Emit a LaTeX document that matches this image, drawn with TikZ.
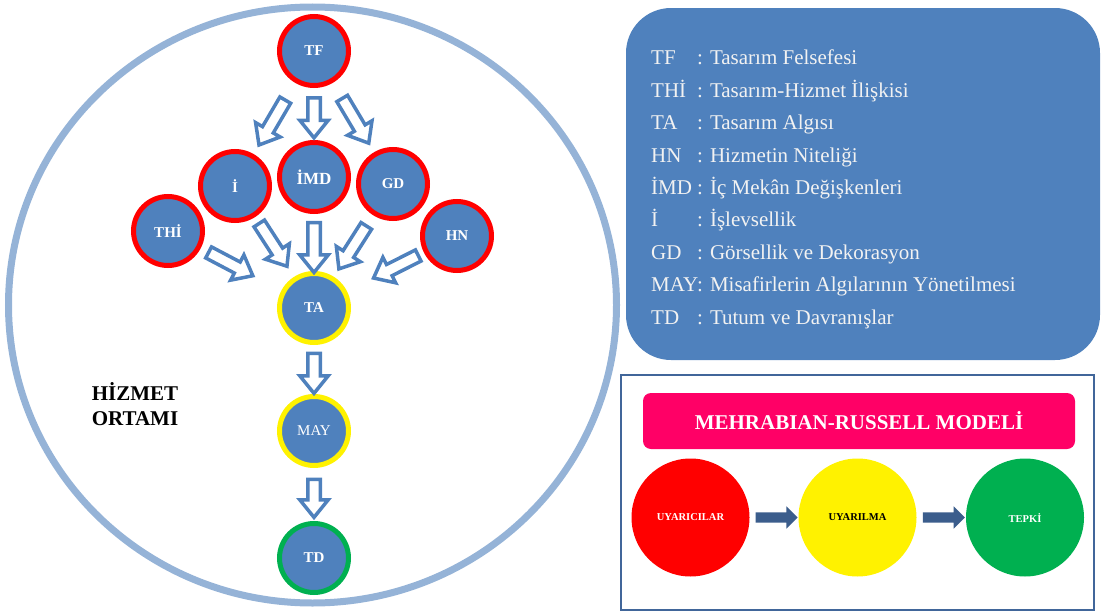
\documentclass[tikz,border=0pt]{standalone}
\usepackage{fontspec}
\setmainfont{Liberation Serif}
\usetikzlibrary{shapes.arrows}

\definecolor{nodeblue}{HTML}{4F81BD}
\definecolor{ringblue}{HTML}{95B3D7}
\definecolor{frameblue}{HTML}{41669A}
\definecolor{darkarrow}{HTML}{3B5D8C}
\definecolor{titlepink}{HTML}{FF0066}
\definecolor{greenring}{HTML}{00B050}

\newcommand{\kisalt}[1]{\makebox[46pt][l]{#1}}

\tikzset{
  kavram/.style={circle, fill=nodeblue, draw=red, line width=5pt, minimum size=69pt, inner sep=0pt, text=white, font=\fontsize{15}{18}\selectfont\bfseries},
  bosok/.style={single arrow, draw=nodeblue, fill=white, line width=3.5pt, inner xsep=0pt, inner ysep=4.5pt, single arrow head extend=8pt, single arrow tip angle=78, minimum height=#1, sloped, allow upside down},
  doluok/.style={single arrow, fill=darkarrow, inner xsep=0pt, inner ysep=5pt, single arrow head extend=6pt, single arrow tip angle=90, minimum height=42pt, sloped},
  model/.style={circle, minimum size=118pt, inner sep=0pt, font=\fontsize{10.5}{12}\selectfont\bfseries}
}

\begin{document}
\begin{tikzpicture}[x=1pt, y=-1pt]
\useasboundingbox (0,0) rectangle (1101,613);

% hizmet ortami
\draw[ringblue, line width=7pt] (312.5,305) ellipse [x radius=304, y radius=298];
\node[align=center, font=\fontsize{21}{25}\selectfont\bfseries] (ortam) at (135,404) {HİZMET\\ORTAMI};

\node[kavram] (tf) at (314,51) {TF};
\node[kavram] (i) at (235,186) {İ};
\node[kavram, font=\fontsize{17}{20}\selectfont\bfseries] (imd) at (314,177) {İMD};
\node[kavram] (gd) at (393,184) {GD};
\node[kavram] (thi) at (168,231) {THİ};
\node[kavram] (hn) at (457,236) {HN};
\node[kavram, draw=yellow] (ta) at (314,308) {TA};
\node[kavram, draw=yellow, font=\fontsize{15}{18}\selectfont] (may) at (314,431) {MAY};
\node[kavram, draw=greenring] (td) at (314,558) {TD};

\path (tf) -- node[bosok=52, pos=0.51] {} (i);
\path (tf) -- node[bosok=40] {} (imd);
\path (tf) -- node[bosok=52] {} (gd);
\path (thi) -- node[bosok=50, pos=0.33] {} (ta);
\path (i) -- node[bosok=51, pos=0.41] {} (ta);
\path (imd) -- node[bosok=50, pos=0.52] {} (ta);
\path (gd) -- node[bosok=51, pos=0.47] {} (ta);
\path (hn) -- node[bosok=50, pos=0.32] {} (ta);
\path (ta) -- node[bosok=40] {} (may);
\path (may) -- node[bosok=38] {} (td);

% kisaltmalar
\draw[fill=nodeblue, draw=none, rounded corners=45pt] (626,8) rectangle (1100,360);
\node[anchor=north west, inner sep=0pt, align=left, text=white!95!black, font=\fontsize{21}{32.4}\selectfont] (aciklama) at (651,50) {%
\kisalt{TF}: Tasarım Felsefesi\\
\kisalt{THİ}: Tasarım-Hizmet İlişkisi\\
\kisalt{TA}: Tasarım Algısı\\
\kisalt{HN}: Hizmetin Niteliği\\
\kisalt{İMD}: İç Mekân Değişkenleri\\
\kisalt{İ}: İşlevsellik\\
\kisalt{GD}: Görsellik ve Dekorasyon\\
\kisalt{MAY}: Misafirlerin Algılarının Yönetilmesi\\
\kisalt{TD}: Tutum ve Davranışlar};

% mehrabian-russell
\draw[frameblue, line width=2pt, fill=white] (621,375) rectangle (1094,610);
\node[fill=titlepink, rounded corners=8pt, minimum width=432pt, minimum height=56pt, text=white, font=\fontsize{21}{24}\selectfont\bfseries] (baslik) at (859,421) {MEHRABIAN-RUSSELL MODELİ};
\node[model, fill=red, text=white] (uyaricilar) at (690.5,517.5) {UYARICILAR};
\node[model, fill=yellow] (uyarilma) at (857.5,517.5) {UYARILMA};
\node[model, fill=greenring, text=white] (tepki) at (1025,517.5) {TEPKİ};
\path (uyaricilar) -- node[doluok] {} (uyarilma);
\path (uyarilma) -- node[doluok] {} (tepki);
\end{tikzpicture}
\end{document}
